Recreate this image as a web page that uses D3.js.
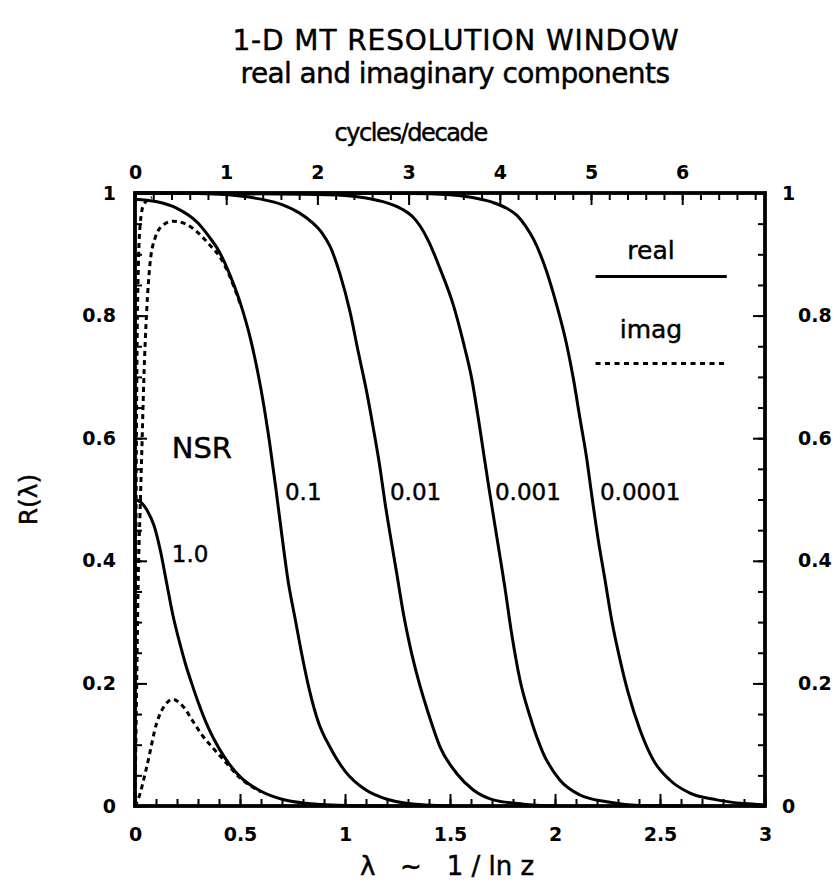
<!DOCTYPE html>
<html>
<head>
<meta charset="utf-8">
<script src="https://cdn.jsdelivr.net/npm/d3@7"></script>
<style>
    body { margin: 0; background: #fff; }
    text { font-family: "DejaVu Sans", sans-serif; fill: #000; stroke: #000; stroke-width: 0.45px; }
    .tick line { stroke: #000; stroke-width: 2; }
    .tick text { font-weight: bold; font-size: 19px; stroke: none; }
</style>
</head>
<body>
<div id="chart"></div>
<script>

// ---- data: [lambda, R] ----
var realNsr1 = [[0, 0.50], [0.03, 0.495], [0.06, 0.481], [0.09, 0.458], [0.12, 0.418], [0.15, 0.365],
    [0.18, 0.312], [0.21, 0.27], [0.24, 0.232], [0.27, 0.20], [0.3, 0.17], [0.35, 0.127], [0.4, 0.094],
    [0.45, 0.068], [0.5, 0.048], [0.6, 0.024], [0.7, 0.011], [0.8, 0.005], [1.0, 0.001], [1.2, 0]];

var imagNsr1 = [[0, 0], [0.016, 0.012], [0.056, 0.064], [0.103, 0.135], [0.151, 0.168], [0.178, 0.174],
    [0.23, 0.162], [0.278, 0.137], [0.325, 0.113], [0.373, 0.094], [0.42, 0.076], [0.5, 0.046], [0.6, 0.023]];

var realNsr01 = [[0, 0.990], [0.1, 0.986], [0.2, 0.975], [0.3, 0.951], [0.35, 0.93], [0.4, 0.905],
    [0.45, 0.868], [0.5, 0.822], [0.55, 0.762], [0.6, 0.68], [0.64, 0.595], [0.67, 0.52], [0.7, 0.44],
    [0.73, 0.365], [0.76, 0.31], [0.79, 0.255], [0.83, 0.19], [0.87, 0.14], [0.93, 0.095], [1.0, 0.057],
    [1.1, 0.026], [1.2, 0.011], [1.3, 0.004], [1.5, 0]];

var imagNsr01 = [[0, 0], [0.008, 0.2], [0.016, 0.38], [0.024, 0.478], [0.033, 0.586], [0.042, 0.695],
    [0.056, 0.81], [0.071, 0.883], [0.095, 0.926], [0.135, 0.948], [0.182, 0.954], [0.238, 0.950],
    [0.294, 0.937], [0.33, 0.925], [0.37, 0.91], [0.4, 0.898], [0.45, 0.865], [0.5, 0.82]];

var realNsr001 = [[0, 1.0], [0.3, 0.999], [0.5, 0.995], [0.6, 0.99], [0.7, 0.981], [0.78, 0.968],
    [0.84, 0.953], [0.89, 0.935], [0.93, 0.912], [0.976, 0.868], [1.024, 0.806], [1.063, 0.741],
    [1.103, 0.676], [1.135, 0.616], [1.167, 0.551], [1.19, 0.496], [1.214, 0.445], [1.246, 0.38],
    [1.278, 0.314], [1.31, 0.26], [1.349, 0.206], [1.397, 0.151], [1.452, 0.097], [1.532, 0.053],
    [1.611, 0.026], [1.706, 0.010], [1.85, 0.003], [2.0, 0]];

var imagNsr001 = [[0, 0], [0.003, 0.3], [0.006, 0.55], [0.01, 0.75], [0.016, 0.88], [0.025, 0.95],
    [0.04, 0.98], [0.08, 0.993]];

var realNsr0001 = [[0, 1.0], [0.8, 0.998], [1.0, 0.996], [1.1, 0.992], [1.2, 0.984], [1.27, 0.974],
    [1.32, 0.962], [1.36, 0.945], [1.4, 0.92], [1.452, 0.877], [1.516, 0.817], [1.563, 0.757],
    [1.603, 0.698], [1.635, 0.632], [1.659, 0.578], [1.683, 0.524], [1.738, 0.407], [1.762, 0.355],
    [1.794, 0.28], [1.833, 0.206], [1.881, 0.146], [1.944, 0.086], [2.024, 0.042], [2.119, 0.018],
    [2.246, 0.007], [2.4, 0.001], [2.6, 0]];

var realNsr00001 = [[0, 1.0], [1.3, 0.999], [1.5, 0.997], [1.6, 0.993], [1.7, 0.985], [1.77, 0.975],
    [1.82, 0.963], [1.86, 0.946], [1.9, 0.923], [1.96, 0.872], [2.008, 0.817], [2.056, 0.752],
    [2.087, 0.698], [2.119, 0.632], [2.151, 0.567], [2.175, 0.507], [2.206, 0.434], [2.238, 0.369],
    [2.27, 0.303], [2.31, 0.238], [2.349, 0.184], [2.405, 0.124], [2.468, 0.075], [2.548, 0.042],
    [2.643, 0.021], [2.77, 0.010], [2.9, 0.004], [3.0, 0.002]];

// curve labels (text, anchor lambda, anchor R)
var curveLabels = ["NSR", "1.0", "0.1", "0.01", "0.001", "0.0001"];
var curveLabelLambda = [0.175, 0.175, 0.714, 1.214, 1.714, 2.214];
var curveLabelR = [0.567, 0.398, 0.499, 0.499, 0.499, 0.499];
var curveLabelSize = [29, 23, 23, 23, 23, 23];

// ticks
var xTicks = [0, 0.5, 1, 1.5, 2, 2.5, 3];
var yTicks = [0, 0.2, 0.4, 0.6, 0.8, 1];
var cycleTicks = [0, 1, 2, 3, 4, 5, 6];


/*
 * ResolutionChart - Object constructor function
 */
ResolutionChart = function(_parentElement){
    this.parentElement = _parentElement;
    this.initVis();
};

ResolutionChart.prototype.initVis = function(){
    var vis = this;

    vis.margin = { top: 193, right: 71, bottom: 80, left: 135 };
    vis.width = 836 - vis.margin.left - vis.margin.right;
    vis.height = 886 - vis.margin.top - vis.margin.bottom;

    vis.root = d3.select("#" + vis.parentElement).append("svg")
        .attr("width", 836)
        .attr("height", 886);

    vis.svg = vis.root.append("g")
        .attr("transform", "translate(" + vis.margin.left + "," + vis.margin.top + ")");

    // titles
    vis.root.append("text")
        .attr("x", 456).attr("y", 50)
        .attr("text-anchor", "middle")
        .style("font-size", "28px")
        .style("letter-spacing", "0.9px")
        .text("1-D MT RESOLUTION WINDOW");
    vis.root.append("text")
        .attr("x", 455).attr("y", 83)
        .attr("text-anchor", "middle")
        .style("font-size", "28px")
        .style("letter-spacing", "-0.6px")
        .text("real and imaginary components");

    // scales
    vis.x = d3.scaleLinear().domain([0, 3]).range([0, vis.width]);
    vis.y = d3.scaleLinear().domain([0, 1]).range([vis.height, 0]);
    // cycles/decade = lambda * ln(10)
    vis.xTop = d3.scaleLinear().domain([0, 3 * Math.LN10]).range([0, vis.width]);

    vis.updateVis();
};

ResolutionChart.prototype.updateVis = function(){
    var vis = this;
    var fmt = d3.format("");

    // minor ticks
    vis.svg.append("g").attr("class", "axis minor")
        .attr("transform", "translate(0," + vis.height + ")")
        .call(d3.axisBottom(vis.x).tickValues(vis.x.ticks(30)).tickSize(-7).tickFormat(""));
    vis.svg.append("g").attr("class", "axis minor")
        .call(d3.axisLeft(vis.y).tickValues(vis.y.ticks(20)).tickSize(-7).tickFormat(""));
    vis.svg.append("g").attr("class", "axis minor")
        .attr("transform", "translate(" + vis.width + ",0)")
        .call(d3.axisRight(vis.y).tickValues(vis.y.ticks(20)).tickSize(-7).tickFormat(""));
    vis.svg.append("g").attr("class", "axis minor")
        .call(d3.axisTop(vis.xTop).tickValues(d3.range(0, 35).map(function(i){ return i * 0.2; })).tickSize(-7).tickFormat(""));

    // major ticks with labels
    vis.svg.append("g").attr("class", "axis x-axis")
        .attr("transform", "translate(0," + vis.height + ")")
        .call(d3.axisBottom(vis.x).tickValues(xTicks).tickSize(-12).tickPadding(22).tickFormat(fmt));
    vis.svg.append("g").attr("class", "axis y-axis")
        .call(d3.axisLeft(vis.y).tickValues(yTicks).tickSize(-12).tickPadding(19).tickFormat(fmt));
    var right = vis.svg.append("g").attr("class", "axis y-axis-right")
        .attr("transform", "translate(" + vis.width + ",0)")
        .call(d3.axisRight(vis.y).tickValues(yTicks).tickSize(-12).tickPadding(17).tickFormat(fmt));
    right.selectAll("text").attr("x", function(d){ return (d === 0 || d === 1) ? 17 : 33; });
    vis.svg.append("g").attr("class", "axis x-axis-top")
        .call(d3.axisTop(vis.xTop).tickValues(cycleTicks).tickSize(-12).tickPadding(14).tickFormat(fmt));

    vis.svg.selectAll(".axis .domain").remove();

    // frame
    vis.svg.append("rect")
        .attr("width", vis.width)
        .attr("height", vis.height)
        .attr("fill", "none")
        .attr("stroke", "#000")
        .attr("stroke-width", 3.8);

    // axis titles
    vis.root.append("text")
        .attr("x", vis.margin.left + vis.xTop(3) + 2)
        .attr("y", 141)
        .attr("text-anchor", "middle")
        .style("font-size", "24px")
        .style("letter-spacing", "-1.4px")
        .text("cycles/decade");

    vis.root.append("text")
        .attr("x", vis.margin.left + vis.x(1.5) - 3)
        .attr("y", 875)
        .attr("text-anchor", "middle")
        .style("font-size", "26px")
        .style("white-space", "pre")
        .text("\u03bb   ~   1 / ln z");

    vis.root.append("text")
        .attr("transform", "translate(37," + (vis.margin.top + vis.y(0.5)) + ") rotate(-90)")
        .attr("text-anchor", "middle")
        .style("font-size", "25px")
        .text("R(\u03bb)");

    // curves
    vis.line = d3.line()
        .x(function(d){ return vis.x(d[0]); })
        .y(function(d){ return vis.y(d[1]); })
        .curve(d3.curveMonotoneX);

    var realSeries = [realNsr1, realNsr01, realNsr001, realNsr0001, realNsr00001];
    var imagSeries = [imagNsr1, imagNsr01, imagNsr001];

    vis.svg.selectAll(".real")
        .data(realSeries)
        .enter().append("path")
        .attr("class", "real")
        .attr("d", function(d){ return vis.line(d); })
        .attr("fill", "none")
        .attr("stroke", "#000")
        .attr("stroke-width", 3);

    vis.svg.selectAll(".imag")
        .data(imagSeries)
        .enter().append("path")
        .attr("class", "imag")
        .attr("d", function(d){ return vis.line(d); })
        .attr("fill", "none")
        .attr("stroke", "#000")
        .attr("stroke-width", 3)
        .attr("stroke-dasharray", "5,4");

    // curve labels
    vis.svg.selectAll(".clabel")
        .data(curveLabels)
        .enter().append("text")
        .attr("class", "clabel")
        .attr("x", function(d, i){ return vis.x(curveLabelLambda[i]); })
        .attr("y", function(d, i){ return vis.y(curveLabelR[i]); })
        .style("font-size", function(d, i){ return curveLabelSize[i] + "px"; })
        .text(function(d){ return d; });

    // legend
    var leg = vis.svg.append("g").attr("class", "legend");
    leg.append("text")
        .attr("x", vis.x(2.457)).attr("y", vis.y(0.892))
        .attr("text-anchor", "middle")
        .style("font-size", "25px")
        .text("real");
    leg.append("line")
        .attr("x1", vis.x(2.193)).attr("x2", vis.x(2.818))
        .attr("y1", vis.y(0.8636)).attr("y2", vis.y(0.8636))
        .attr("stroke", "#000").attr("stroke-width", 3);
    leg.append("text")
        .attr("x", vis.x(2.457)).attr("y", vis.y(0.763))
        .attr("text-anchor", "middle")
        .style("font-size", "25px")
        .text("imag");
    leg.append("line")
        .attr("x1", vis.x(2.193)).attr("x2", vis.x(2.818))
        .attr("y1", vis.y(0.722)).attr("y2", vis.y(0.722))
        .attr("stroke", "#000").attr("stroke-width", 3)
        .attr("stroke-dasharray", "5,4.5");
};

new ResolutionChart("chart");

</script>
</body>
</html>
